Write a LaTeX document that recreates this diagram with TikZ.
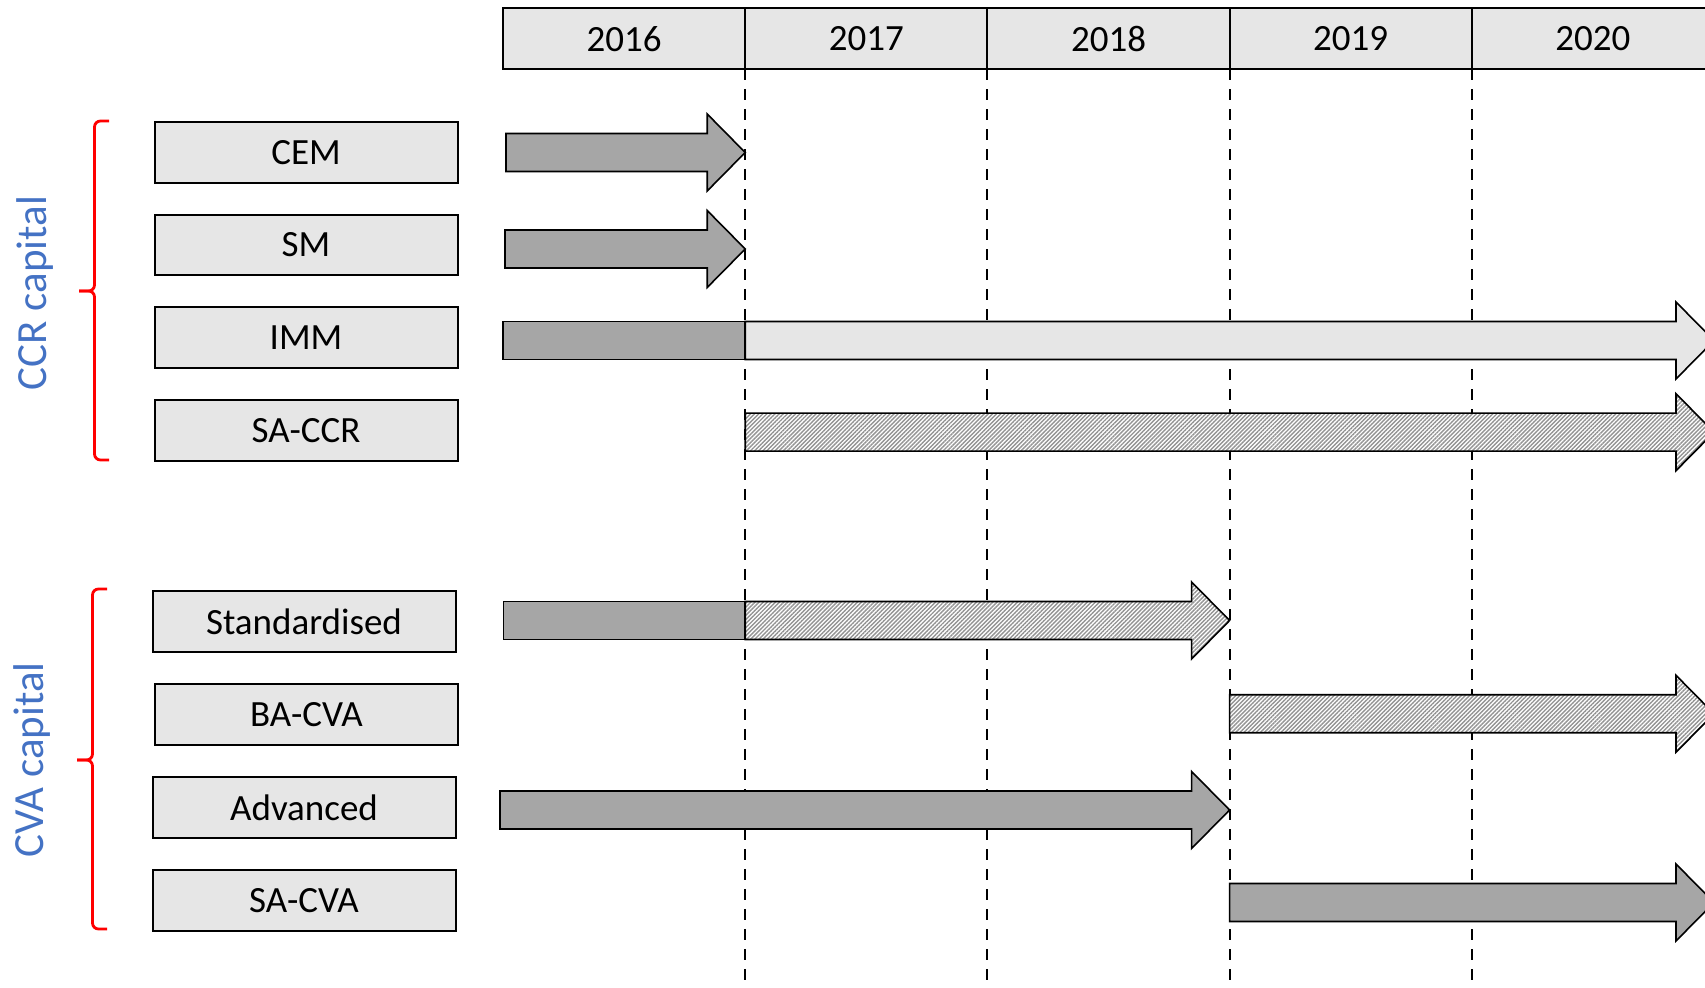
\documentclass[tikz,border=0pt]{standalone}
\usepackage{fontspec}
\setmainfont{Carlito}
\usetikzlibrary{positioning}
\usetikzlibrary{patterns.meta}

\definecolor{capblue}{HTML}{4472C4}
\definecolor{darkbar}{HTML}{A6A6A6}
\definecolor{lightbar}{HTML}{E6E6E6}

% style, start x, tip x, row y
\newcommand{\bararrow}[4]{%
  \draw[#1] (#2,#4-19) -- (#3-38,#4-19) -- (#3-38,#4-38.5) -- (#3,#4)
    -- (#3-38,#4+38.5) -- (#3-38,#4+19) -- (#2,#4+19) -- cycle;}

\begin{document}
\begin{tikzpicture}[x=0.5pt, y=-0.5pt,
    yearbox/.style={draw, line width=1pt, fill=lightbar, minimum width=121.1pt,
      minimum height=30.5pt, inner sep=0pt, outer sep=0pt,
      font=\fontsize{18.5}{22}\selectfont},
    methodbox/.style={draw, line width=1pt, fill=lightbar, minimum width=151.5pt,
      minimum height=30.3pt, inner sep=0pt, font=\fontsize{18.5}{22}\selectfont},
    grouplabel/.style={rotate=90, text=capblue, inner sep=0pt,
      font=\fontsize{21.5}{25}\selectfont},
    capbrace/.style={draw=red, line width=1.4pt, rounded corners=3pt},
    gridline/.style={dash pattern=on 5.5pt off 4.5pt, line width=1pt},
    darkarrow/.style={line width=0.8pt, fill=darkbar},
    lightarrow/.style={line width=0.8pt, fill=lightbar},
    hatcharrow/.style={line width=0.8pt, preaction={fill=white},
      pattern={Lines[angle=45, distance=1.45pt, line width=0.7pt]},
      pattern color=gray!85}]
    \useasboundingbox (0,0) rectangle (1705,988);

    \node[yearbox, anchor=north west] (y2016) at (503,8.5) {2016};
    \node[yearbox, right=0pt of y2016] (y2017) {2017};
    \node[yearbox, right=0pt of y2017] (y2018) {2018};
    \node[yearbox, right=0pt of y2018] (y2019) {2019};
    \node[yearbox, right=0pt of y2019] (y2020) {2020};

    \coordinate (bottom) at (0,988);
    \draw[gridline] (y2017.south west) -- (y2017.south west |- bottom);
    \draw[gridline] (y2018.south west) -- (y2018.south west |- bottom);
    \draw[gridline] (y2019.south west) -- (y2019.south west |- bottom);
    \draw[gridline] (y2020.south west) -- (y2020.south west |- bottom);

    \node[methodbox] (cem) at (306,152.3) {CEM};
    \node[methodbox] (sm) at (306,245) {SM};
    \node[methodbox] (imm) at (306,337.5) {IMM};
    \node[methodbox] (saccr) at (306,430.3) {SA-CCR};
    \node[methodbox] (std) at (304,621.3) {Standardised};
    \node[methodbox] (bacva) at (306.5,714.3) {BA-CVA};
    \node[methodbox] (adv) at (304,807.3) {Advanced};
    \node[methodbox] (sacva) at (304,900.3) {SA-CVA};

    \bararrow{draw, darkarrow}{506}{745.2}{152.5}
    \bararrow{draw, darkarrow}{505}{745.2}{249}
    \draw[darkarrow] (503,321.5) rectangle (745.2,359.5);
    \bararrow{draw, lightarrow}{745.2}{1714}{340.5}
    \bararrow{draw, hatcharrow}{745.2}{1714}{432.2}

    \draw[darkarrow] (503.5,601.5) rectangle (745.2,639.5);
    \bararrow{draw, hatcharrow}{745.2}{1229.6}{620.5}
    \bararrow{draw, hatcharrow}{1229.6}{1714}{713.8}
    \bararrow{draw, darkarrow}{500}{1229.6}{810}
    \bararrow{draw, darkarrow}{1229.6}{1714}{902.5}

    \draw[capbrace] (109,121) -- (94.5,121) -- (94.5,291) -- (79,291);
    \draw[capbrace] (109,460) -- (94.5,460) -- (94.5,291) -- (79,291);
    \draw[capbrace] (107,589) -- (92.5,589) -- (92.5,760) -- (77,760);
    \draw[capbrace] (107,929) -- (92.5,929) -- (92.5,760) -- (77,760);

    \node[grouplabel] (ccr) at (35,293) {CCR capital};
    \node[grouplabel] (cva) at (32,760) {CVA capital};
\end{tikzpicture}
\end{document}
